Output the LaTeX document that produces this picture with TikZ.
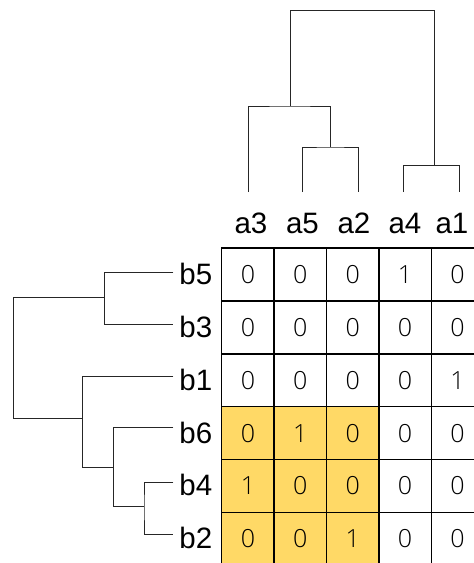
\documentclass[tikz,border=0pt]{standalone}
\usepackage{fontspec}
\setmainfont{Liberation Sans}
\newfontfamily\numfont{Open Sans Light}
\definecolor{cellyellow}{HTML}{FFD966}
\begin{document}
\begin{tikzpicture}[x=1pt,y=-1pt,
  cellbox/.style={draw=black, line width=1.4pt, minimum width=52.4pt, minimum height=52.9pt,
    inner sep=0pt, anchor=north west, font=\numfont\fontsize{25}{25}\selectfont},
  hl/.style={fill=cellyellow},
  collabel/.style={anchor=base, inner sep=0pt, font=\fontsize{29.5}{30}\selectfont},
  rowlabel/.style={anchor=east, inner sep=0pt, font=\fontsize{29.5}{30}\selectfont},
  dendro/.style={draw=black!85, line width=1pt}]
\useasboundingbox (0,0) rectangle (474,563);
\begin{scope}
\clip (0,0) rectangle (474,563);
% grid
\foreach \r/\vals in {1/{0,0,0,1,0},2/{0,0,0,0,0},3/{0,0,0,0,1},4/{0,1,0,0,0},5/{1,0,0,0,0},6/{0,0,1,0,0}}{
  \foreach \v [count=\c] in \vals {
    \pgfmathsetmacro{\px}{221+52.4*(\c-1)}
    \pgfmathsetmacro{\py}{247.3+52.9*(\r-1)}
    \ifnum\r>3 \ifnum\c<4
      \node[cellbox,hl] (cell-\r-\c) at (\px,\py) {\v};
    \else
      \node[cellbox] (cell-\r-\c) at (\px,\py) {\v};
    \fi\else
      \node[cellbox] (cell-\r-\c) at (\px,\py) {\v};
    \fi
  }
}
\end{scope}
% column labels
\node[collabel] (a3) at (251,233) {a3};
\node[collabel] (a5) at (302.5,233) {a5};
\node[collabel] (a2) at (354,233) {a2};
\node[collabel] (a4) at (405,233) {a4};
\node[collabel] (a1) at (452,233) {a1};
% row labels
\foreach \n/\r in {b5/1,b3/2,b1/3,b6/4,b4/5,b2/6}{
  \node[rowlabel] (\n) at (212.5,{247.3+52.9*(\r-0.5)}) {\n};
}
% top dendrogram
\coordinate (ta3) at (248.3,192); \coordinate (ta5) at (302.7,192);
\coordinate (ta2) at (358.3,192); \coordinate (ta4) at (403.3,192);
\coordinate (ta1) at (459.3,192);
\coordinate (j52) at (330.5,147);
\coordinate (j352) at (290,106);
\coordinate (j41) at (434.3,165.7);
\coordinate (jtop) at (362,10.3);
\draw[dendro] (ta5) |- (j52) -| (ta2);
\draw[dendro] (j52) -- (j52 |- j352);
\draw[dendro] (ta3) |- (j352) -| (j52 |- j352);
\draw[dendro] (ta4) |- (j41) -| (ta1);
\draw[dendro] (j352) |- (jtop) -| (j41);
% left dendrogram
\coordinate (lb5) at (173.3,272.7); \coordinate (lb3) at (173.3,324.7);
\coordinate (lb1) at (173.3,376.3); \coordinate (lb6) at (173.3,427.3);
\coordinate (lb4) at (173.3,482.3); \coordinate (lb2) at (173.3,534);
\coordinate (k53) at (104.3,297.3);
\coordinate (k42) at (144,506.7);
\coordinate (k642) at (113.3,467.3);
\coordinate (k1642) at (82.3,418.3);
\coordinate (kroot) at (13.7,360);
\draw[dendro] (lb5) -| (k53) |- (lb3);
\draw[dendro] (lb4) -| (k42) |- (lb2);
\draw[dendro] (lb6) -| (k642) |- (k42);
\draw[dendro] (lb1) -| (k1642) |- (k642);
\draw[dendro] (k53) -| (kroot) |- (k1642);
\end{tikzpicture}
\end{document}
